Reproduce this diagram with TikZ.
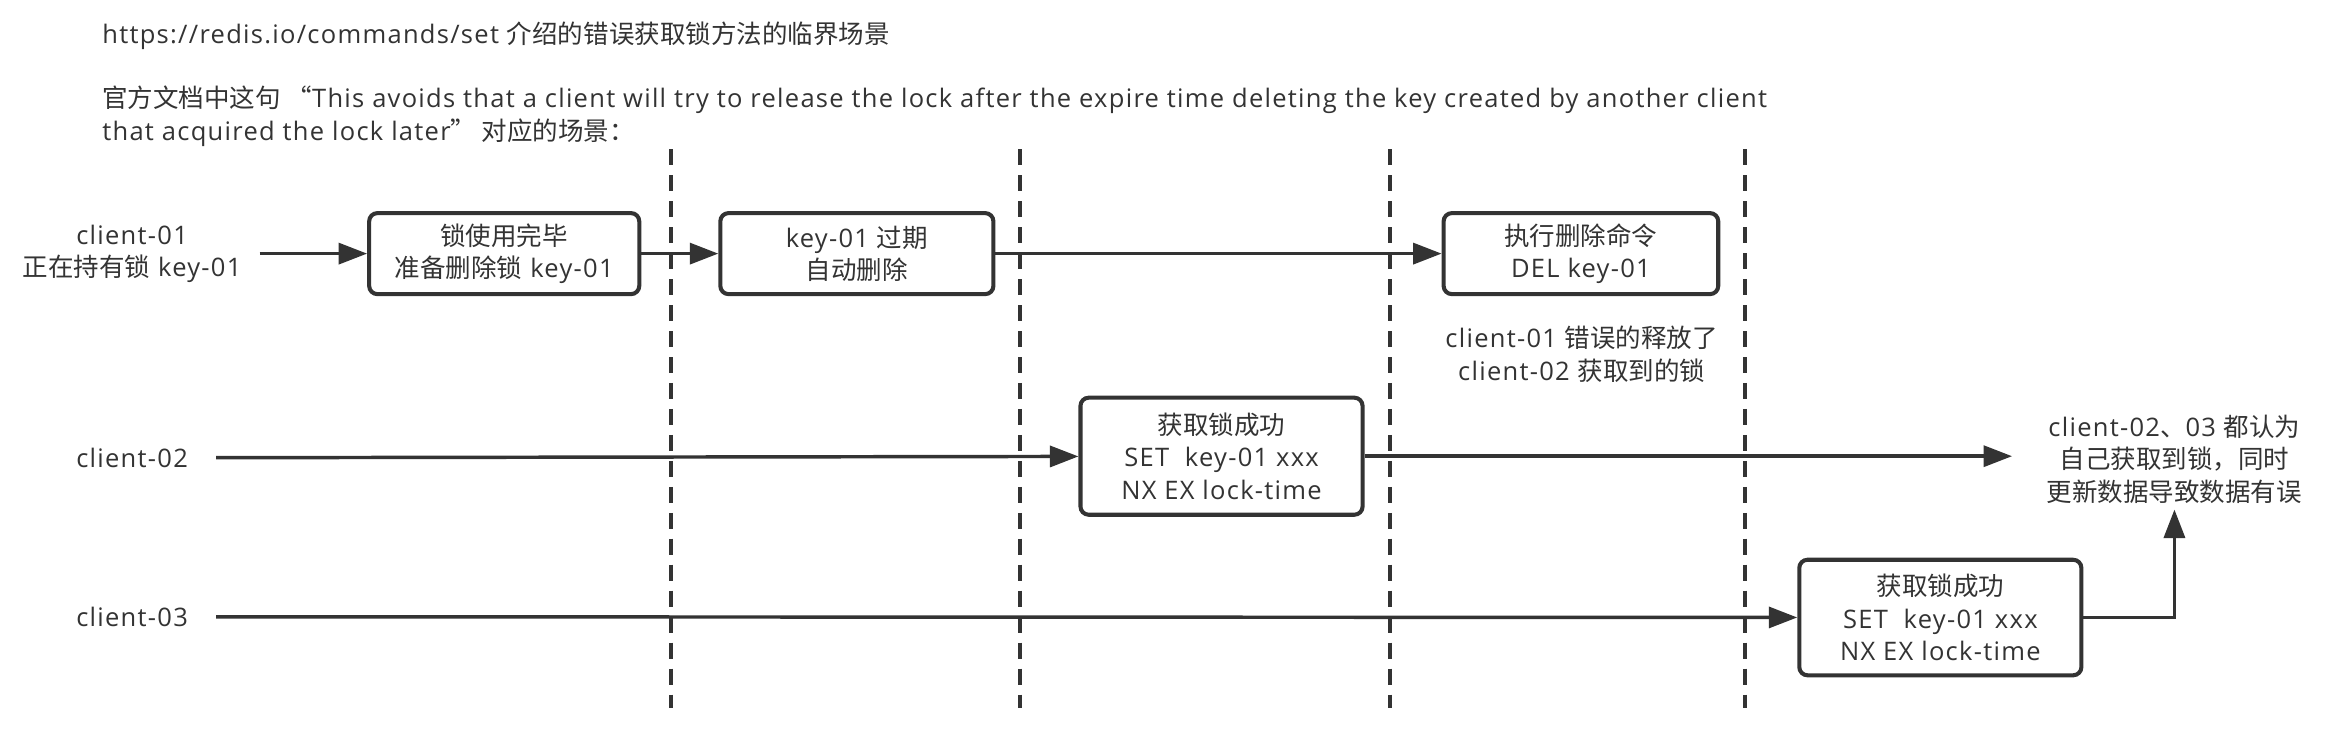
\documentclass[tikz,border=0pt]{standalone}
\usepackage{fontspec}
\setmainfont{Open Sans}[LetterSpace=5.0]
\newfontfamily\cjk{Noto Sans CJK SC}
\usetikzlibrary{arrows.meta,positioning}
\definecolor{ink}{HTML}{333333}

\begin{document}
\begin{tikzpicture}[x=1pt,y=-1pt,font=\fontsize{17}{21.5}\selectfont]
      \tikzstyle{every node}=[text=ink,align=center,inner sep=0pt]
      \tikzstyle{box}=[draw=ink,line width=2.7pt,rounded corners=5.5pt]
      \tikzstyle{flow}=[draw=ink,line width=2.3pt,-{Triangle[length=19pt,width=14pt]}]
      \tikzstyle{stage}=[draw=ink,line width=2.7pt,dash pattern=on 10.7pt off 6.6pt]
      \useasboundingbox (0,0) rectangle (1560,491);
      % heading
      \node[anchor=west] (title) at (68,24) {https://redis.io/commands/set {\cjk 介绍的错误获取锁方法的临界场景}};
      \node[anchor=west,align=left] (quote) at (68,77.5) {{\cjk 官方文档中这句 “}This avoids that a client will try to release the lock after the expire time deleting the key created by another client\\that acquired the lock later{\cjk ” 对应的场景：}};
      % time slices
      \foreach \x in {447,680,926,1163}
        \draw[stage] (\x,99.5) -- (\x,472);
      % clients
      \node (c1) at (88,169) {client-01\\{\cjk 正在持有锁} key-01};
      \node (c2) at (88,305) {client-02};
      \node (c3) at (88,411) {client-03};
      \coordinate (c1s) at (173,169);
      \coordinate (c2s) at (144,305);
      \coordinate (c3s) at (144,411);
      % steps
      \node[box,minimum width=180pt,minimum height=54pt] (done) at (336,169) {{\cjk 锁使用完毕}\\{\cjk 准备删除锁} key-01};
      \node[box,minimum width=182pt,minimum height=54pt] (expire) at (571,169) {key-01 {\cjk 过期}\\{\cjk 自动删除}};
      \node[box,minimum width=183pt,minimum height=54pt] (del) at (1053.5,169) {{\cjk 执行删除命令}\\DEL key-01};
      \node[box,minimum width=188pt,minimum height=78pt] (set2) at (814,304) {{\cjk 获取锁成功}\\SET\ \ key-01 xxx\\NX EX lock-time};
      \node[box,minimum width=188pt,minimum height=77pt] (set3) at (1293,411.5) {{\cjk 获取锁成功}\\SET\ \ key-01 xxx\\NX EX lock-time};
      \node (wrong) at (1054,236) {client-01 {\cjk 错误的释放了}\\client-02 {\cjk 获取到的锁}};
      \node[inner sep=4pt] (result) at (1449,306) {client-02{\cjk 、}03 {\cjk 都认为}\\{\cjk 自己获取到锁，同时}\\{\cjk 更新数据导致数据有误}};
      % connectors
      \draw[flow] (c1s) -- (done);
      \draw[flow] (done) -- (expire);
      \draw[flow] (expire) -- (del);
      \draw[flow] (c2s) -- (set2);
      \draw[flow,shorten >=19pt] (set2) -- (set2 -| result.west);
      \draw[flow] (c3s) -- (set3);
      \draw[flow] (set3.east) -| (result.south);
\end{tikzpicture}
\end{document}
